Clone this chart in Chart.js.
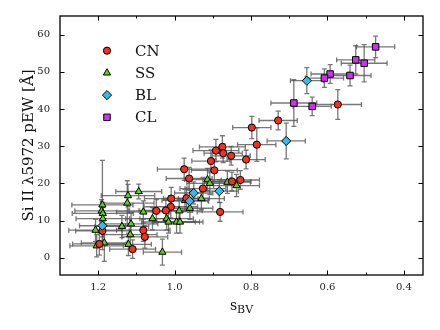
<!DOCTYPE html>
<html>
<head>
<meta charset="utf-8">
<script src="https://cdn.jsdelivr.net/npm/chart.js@4"></script>
<style>
  html, body { margin: 0; padding: 0; background: #fff; }
</style>
</head>
<body>
<canvas id="myChart" width="440" height="330"></canvas>
<script>
const categories = ["CN", "SS", "BL", "CL"];

// CN (core normal)
const cnS      = [0.573, 0.729, 0.798, 0.785, 0.875, 0.892, 0.873, 0.852, 0.813, 0.905, 0.896, 0.975, 0.962, 0.850, 0.828, 0.926, 0.969, 1.009, 1.010, 1.023, 1.048, 0.881, 1.189, 1.082, 1.078, 1.197, 1.110];
const cnPew    = [41.2, 36.9, 35.0, 30.4, 29.8, 28.8, 28.1, 27.4, 26.4, 26.0, 23.5, 23.8, 21.3, 20.5, 20.9, 18.6, 16.0, 15.9, 13.7, 12.7, 12.6, 12.3, 7.2, 7.4, 5.6, 3.7, 2.3];
const cnSErr   = [0.062, 0.05, 0.05, 0.05, 0.06, 0.06, 0.05, 0.05, 0.05, 0.05, 0.06, 0.07, 0.06, 0.05, 0.05, 0.06, 0.06, 0.07, 0.07, 0.07, 0.07, 0.06, 0.07, 0.07, 0.06, 0.07, 0.06];
const cnPewErr = [4, 2.5, 3, 4.5, 3, 3, 2.5, 2.5, 2.5, 3, 3, 3, 3, 2.5, 2.5, 3, 3, 3, 3, 3, 3, 2.5, 3, 3, 3, 3, 2.5];

// SS (shallow silicon)
const ssS      = [1.094, 1.122, 1.124, 1.189, 1.191, 1.188, 1.188, 1.207, 1.204, 1.184, 1.138, 1.114, 1.116, 1.121, 1.082, 1.058, 1.021, 1.016, 1.032, 0.995, 0.986, 0.988, 0.960, 0.973, 0.930, 0.914, 0.908, 0.862, 0.838];
const ssPew    = [17.8, 16.7, 14.7, 14.2, 12.6, 11.9, 10.5, 7.4, 3.2, 4.0, 8.4, 9.1, 6.2, 3.6, 12.3, 10.5, 10.5, 9.6, 1.5, 9.6, 9.6, 12.6, 13.3, 15.4, 15.9, 21.0, 20.0, 20.3, 19.4];
const ssSErr   = [0.06, 0.07, 0.07, 0.08, 0.07, 0.08, 0.07, 0.07, 0.07, 0.06, 0.07, 0.07, 0.07, 0.06, 0.07, 0.07, 0.07, 0.07, 0.05, 0.06, 0.06, 0.06, 0.06, 0.06, 0.06, 0.06, 0.06, 0.06, 0.06];
const ssPewErr = [2, 3, 6, 12, 3, 3, 3, 3, 3, 5, 3, 3, 3, 3, 3, 3, 3, 3, 3.5, 3, 3, 3, 3, 3, 3, 3, 3, 3, 3];

// BL (broad line)
const blS      = [0.654, 0.708, 1.189, 0.950, 0.883, 0.961];
const blPew    = [47.6, 31.4, 8.6, 17.4, 17.9, 15.2];
const blSErr   = [0.043, 0.05, 0.06, 0.05, 0.05, 0.05];
const blPewErr = [3.5, 4.8, 3, 3, 3, 3];

// CL (cool)
const clS      = [0.474, 0.526, 0.504, 0.541, 0.593, 0.608, 0.640, 0.688];
const clPew    = [56.7, 53.2, 52.3, 49.0, 49.4, 48.3, 40.7, 41.6];
const clSErr   = [0.05, 0.05, 0.06, 0.055, 0.05, 0.05, 0.05, 0.06];
const clPewErr = [2.9, 3.8, 5, 2.8, 2.5, 2.5, 2.5, 6.3];

const xTicks = [1.2, 1.0, 0.8, 0.6, 0.4];
const xMinorTicks = [1.1, 0.9, 0.7, 0.5];
const yTicks = [0, 10, 20, 30, 40, 50, 60];

function toPoints(s, pew, se, pe) {
    return s.map((v, i) => ({ x: v, y: pew[i], xe: se[i], ye: pe[i] }));
}

const styles = {
    CN: { pointStyle: "circle",   radius: 3.6, color: "#ee3322" },
    SS: { pointStyle: "triangle", radius: 4.2, color: "#5fd11b" },
    BL: { pointStyle: "rectRot",  radius: 4.6, color: "#33bbee" },
    CL: { pointStyle: "rect",     radius: 4.6, color: "#cc33ee" }
};

const serif = "'DejaVu Serif', 'Liberation Serif', serif";

// error bars under the markers
const errorBars = {
    id: "errorBars",
    beforeDatasetsDraw(chart) {
        const { ctx, chartArea, scales: { x, y } } = chart;
        ctx.save();
        ctx.beginPath();
        ctx.rect(chartArea.left, chartArea.top, chartArea.right - chartArea.left, chartArea.bottom - chartArea.top);
        ctx.clip();
        ctx.strokeStyle = "rgba(85,85,85,0.8)";
        ctx.lineWidth = 1.3;
        const cap = 2.5;
        chart.data.datasets.forEach(ds => {
            ds.data.forEach(p => {
                const px = x.getPixelForValue(p.x), py = y.getPixelForValue(p.y);
                const xa = x.getPixelForValue(p.x - p.xe), xb = x.getPixelForValue(p.x + p.xe);
                const ya = y.getPixelForValue(p.y - p.ye), yb = y.getPixelForValue(p.y + p.ye);
                ctx.beginPath();
                ctx.moveTo(xa, py); ctx.lineTo(xb, py);
                ctx.moveTo(xa, py - cap); ctx.lineTo(xa, py + cap);
                ctx.moveTo(xb, py - cap); ctx.lineTo(xb, py + cap);
                ctx.moveTo(px, ya); ctx.lineTo(px, yb);
                ctx.moveTo(px - cap, ya); ctx.lineTo(px + cap, ya);
                ctx.moveTo(px - cap, yb); ctx.lineTo(px + cap, yb);
                ctx.stroke();
            });
        });
        ctx.restore();
    }
};

// frame, inward ticks, titles and legend
const decorations = {
    id: "decorations",
    afterDraw(chart) {
        const { ctx, chartArea: a, scales: { x, y } } = chart;
        ctx.save();
        ctx.strokeStyle = "#000";
        ctx.lineWidth = 1.3;
        ctx.strokeRect(a.left, a.top, a.right - a.left, a.bottom - a.top);

        ctx.lineWidth = 1;
        ctx.beginPath();
        xTicks.forEach(v => {
            const px = Math.round(x.getPixelForValue(v)) + 0.5;
            ctx.moveTo(px, a.bottom); ctx.lineTo(px, a.bottom - 4.5);
            ctx.moveTo(px, a.top); ctx.lineTo(px, a.top + 4.5);
        });
        xMinorTicks.forEach(v => {
            const px = Math.round(x.getPixelForValue(v)) + 0.5;
            ctx.moveTo(px, a.bottom); ctx.lineTo(px, a.bottom - 2.5);
            ctx.moveTo(px, a.top); ctx.lineTo(px, a.top + 2.5);
        });
        yTicks.forEach(v => {
            const py = Math.round(y.getPixelForValue(v)) + 0.5;
            ctx.moveTo(a.left, py); ctx.lineTo(a.left + 4.5, py);
            ctx.moveTo(a.right, py); ctx.lineTo(a.right - 4.5, py);
        });
        ctx.stroke();

        // y title
        ctx.fillStyle = "#111";
        ctx.save();
        ctx.translate(29, (a.top + a.bottom) / 2);
        ctx.rotate(-Math.PI / 2);
        ctx.font = "15px " + serif;
        ctx.textAlign = "center";
        ctx.textBaseline = "middle";
        ctx.fillText("Si II \u03bb5972 pEW [\u00c5]", 0, 0);
        ctx.restore();

        // x title: s with subscript BV
        ctx.font = "14px " + serif;
        const wS = ctx.measureText("s").width;
        ctx.font = "11px " + serif;
        const wB = ctx.measureText("BV").width;
        const x0 = (a.left + a.right) / 2 - (wS + wB) / 2;
        ctx.textAlign = "left";
        ctx.textBaseline = "alphabetic";
        ctx.font = "14px " + serif;
        ctx.fillText("s", x0, 310);
        ctx.font = "11px " + serif;
        ctx.fillText("BV", x0 + wS, 313);

        // legend
        categories.forEach((c, i) => {
            const st = styles[c];
            const ly = 50.7 + i * 22.2;
            ctx.fillStyle = st.color;
            ctx.strokeStyle = "#000";
            ctx.lineWidth = 1;
            Chart.helpers.drawPoint(ctx, { pointStyle: st.pointStyle, radius: st.radius, rotation: 0, borderWidth: 1 }, 107, ly);
            ctx.fillStyle = "#111";
            ctx.font = "15px " + serif;
            ctx.textBaseline = "middle";
            ctx.fillText(c, 135, ly + 1);
        });
        ctx.restore();
    }
};

function makeSet(name, data, order) {
    const st = styles[name];
    return {
        label: name,
        data: data,
        order: order,
        pointStyle: st.pointStyle,
        pointRadius: st.radius,
        pointHoverRadius: st.radius,
        backgroundColor: st.color,
        borderColor: "#000",
        borderWidth: 1,
        showLine: false
    };
}

const ctx = document.getElementById("myChart").getContext("2d");
const myChart = new Chart(ctx, {
    type: "scatter",
    data: {
        datasets: [
            makeSet("CN", toPoints(cnS, cnPew, cnSErr, cnPewErr), 2),
            makeSet("SS", toPoints(ssS, ssPew, ssSErr, ssPewErr), 3),
            makeSet("BL", toPoints(blS, blPew, blSErr, blPewErr), 1),
            makeSet("CL", toPoints(clS, clPew, clSErr, clPewErr), 0)
        ]
    },
    options: {
        responsive: false,
        animation: false,
        layout: { padding: { top: 16, right: 17, left: 0, bottom: 0 } },
        plugins: {
            legend: { display: false },
            tooltip: { enabled: false }
        },
        scales: {
            x: {
                type: "linear",
                reverse: true,
                min: 0.35,
                max: 1.3,
                afterBuildTicks: s => { s.ticks = xTicks.map(v => ({ value: v })); },
                afterFit: s => { s.height = 55; },
                grid: { display: false, drawTicks: false },
                border: { display: false },
                ticks: {
                    padding: 6,
                    color: "#222",
                    maxRotation: 0,
                    autoSkip: false,
                    font: { family: serif, size: 10 },
                    callback: v => Number(v).toFixed(1)
                }
            },
            y: {
                type: "linear",
                min: -4.65,
                max: 65,
                afterBuildTicks: s => { s.ticks = yTicks.map(v => ({ value: v })); },
                afterFit: s => { s.width = 60; },
                grid: { display: false, drawTicks: false },
                border: { display: false },
                ticks: {
                    padding: 10,
                    color: "#222",
                    autoSkip: false,
                    font: { family: serif, size: 10 },
                    callback: v => String(v)
                }
            }
        }
    },
    plugins: [errorBars, decorations]
});
</script>
</body>
</html>
